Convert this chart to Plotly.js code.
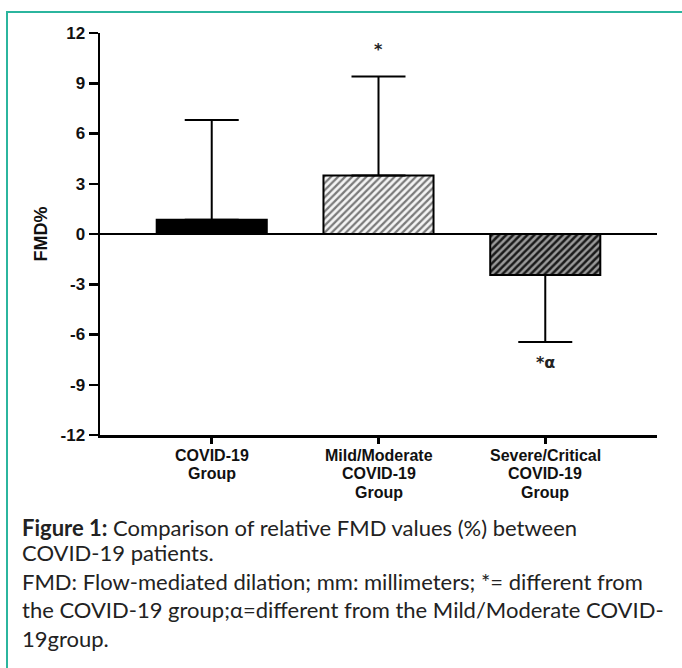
<!DOCTYPE html>
<html>
<head>
<meta charset="utf-8">
<script src="https://cdn.plot.ly/plotly-3.0.1.min.js"></script>
<style>
html,body{margin:0;padding:0;background:#fff;}
#wrap{position:relative;width:682px;height:668px;overflow:hidden;}
#frame{position:absolute;left:6px;top:11px;width:700px;height:700px;border-top:2px solid #2bb59e;border-left:2px solid #2bb59e;pointer-events:none;}
#chart{position:absolute;left:0;top:0;width:682px;height:668px;}
</style>
</head>
<body>
<div id="wrap"><div id="chart"></div><div id="frame"></div></div>
<script>
var categories = ["COVID-19 Group", "Mild/Moderate COVID-19 Group", "Severe/Critical COVID-19 Group"];
var categoryLines = [["COVID-19", "Group"], ["Mild/Moderate", "COVID-19", "Group"], ["Severe/Critical", "COVID-19", "Group"]];
var meanValues = [0.85, 3.5, -2.45];
var errorUp = [5.95, 5.9, 0];
var errorDown = [0, 0, 4.0];
var yTicks = [-12, -9, -6, -3, 0, 3, 6, 9, 12];
var sigLabels = ["", "*", "*α"];
var sigY = [null, 11.0, -7.7];

var barFill = ['#000000', '#f4f4f4', '#9a9a9a'];
var hatchShape = ['', '/', '/'];
var hatchColor = ['#000000', '#7a7a7a', '#1a1a1a'];
var hatchSolidity = [0.5, 0.45, 0.5];

var captionLines = [
  "<b>Figure 1:</b> Comparison of relative FMD values (%) between",
  "COVID-19 patients.",
  "FMD: Flow-mediated dilation; mm: millimeters; *= different from",
  "the COVID-19 group;α=different from the Mild/Moderate COVID-",
  "19group."
];
var captionY = [-0.2313, -0.2935, -0.3632, -0.4353, -0.5050];

var traces = [];
for (var b = 0; b < categories.length; b++) {
  traces.push({
    type: 'bar',
    x: [categories[b]],
    y: [meanValues[b]],
    width: 0.66,
    marker: {
      color: barFill[b],
      line: {color: '#000', width: 2},
      pattern: {
        shape: hatchShape[b],
        fillmode: 'replace',
        bgcolor: barFill[b],
        fgcolor: hatchColor[b],
        fgopacity: 1,
        size: 5,
        solidity: hatchSolidity[b]
      }
    },
    error_y: {
      type: 'data',
      symmetric: false,
      array: [errorUp[b]],
      arrayminus: [errorDown[b]],
      color: '#000',
      thickness: 2,
      width: 27
    },
    hoverinfo: 'none'
  });
}

var annotations = [];
for (var i = 0; i < categories.length; i++) {
  if (sigLabels[i]) {
    annotations.push({
      x: categories[i], y: sigY[i], xref: 'x', yref: 'y',
      text: sigLabels[i], showarrow: false,
      font: {family: 'DejaVu Sans', size: 16, color: '#222', weight: 'bold'}
    });
  }
  for (var k = 0; k < categoryLines[i].length; k++) {
    annotations.push({
      x: categories[i], y: 0, xref: 'x', yref: 'paper',
      yanchor: 'middle', yshift: -(20 + k * 18.5),
      text: categoryLines[i][k], showarrow: false,
      font: {family: 'Liberation Sans', size: 16, color: '#111', weight: 'bold'}
    });
  }
}
for (var j = 0; j < captionLines.length; j++) {
  annotations.push({
    x: -0.1436, y: captionY[j], xref: 'paper', yref: 'paper',
    xanchor: 'left', yanchor: 'middle', align: 'left',
    text: captionLines[j], showarrow: false,
    font: {family: 'Lato', size: 22, color: '#222'}
  });
}

var layout = {
  width: 682, height: 668,
  margin: {l: 100, r: 25, t: 33, b: 233},
  paper_bgcolor: '#fff', plot_bgcolor: '#fff',
  showlegend: false,
  barmode: 'overlay',
  xaxis: {
    type: 'category',
    categoryarray: categories, categoryorder: 'array',
    range: [-0.67, 2.67],
    showline: true, linecolor: '#000', linewidth: 2.5,
    ticks: 'outside', ticklen: 6, tickwidth: 2.5, tickcolor: '#000',
    showticklabels: false,
    showgrid: false, zeroline: false, fixedrange: true
  },
  yaxis: {
    range: [-12, 12],
    tickvals: yTicks,
    ticktext: yTicks.map(String),
    showline: true, linecolor: '#000', linewidth: 2.5,
    ticks: 'outside', ticklen: 9, tickwidth: 2.5, tickcolor: '#000',
    tickfont: {family: 'Liberation Sans', size: 17, color: '#111', weight: 'bold'},
    showgrid: false,
    zeroline: true, zerolinecolor: '#000', zerolinewidth: 2,
    title: {text: 'FMD%', font: {family: 'Liberation Sans', size: 18, color: '#111', weight: 'bold'}, standoff: 8},
    fixedrange: true
  },
  annotations: annotations
};

Plotly.newPlot('chart', traces, layout, {displayModeBar: false, staticPlot: true});
</script>
</body>
</html>
